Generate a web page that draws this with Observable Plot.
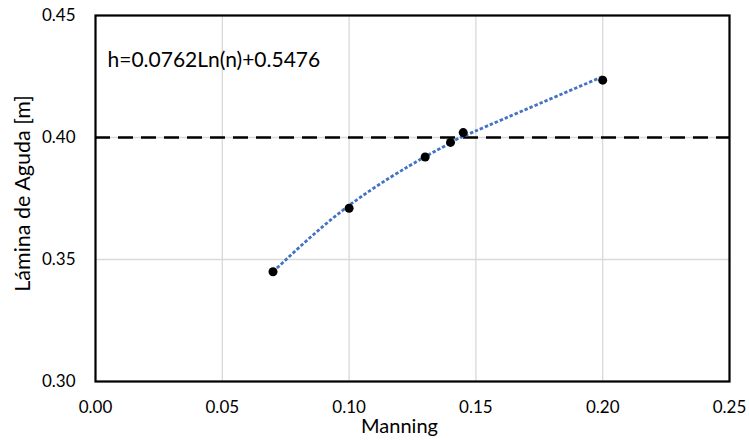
<!DOCTYPE html>
<html>
<head>
<meta charset="utf-8">
<script src="https://cdn.jsdelivr.net/npm/d3@7"></script>
<script src="https://cdn.jsdelivr.net/npm/@observablehq/plot@0.6"></script>
<style>
  html, body { margin: 0; padding: 0; background: #fff; }
  #chart { width: 749px; height: 440px; }
</style>
</head>
<body>
<div id="chart"></div>
<script>
// Data
const manning = [0.07, 0.10, 0.13, 0.14, 0.145, 0.20];
const lamina  = [0.345, 0.371, 0.392, 0.398, 0.402, 0.4235];
const trendA = 0.0762;   // coefficient from the chart's equation
const trendB = 0.5476;
const threshold = [0.40];
const xTicks = [0.00, 0.05, 0.10, 0.15, 0.20, 0.25];
const yTicks = [0.30, 0.35, 0.40, 0.45];
const equationLabel = "h=0.0762Ln(n)+0.5476";
const xTitle = "Manning";
const yTitle = "Lámina de Aguda [m]";

const points = manning.map((n, i) => ({n, h: lamina[i]}));
const trend = manning.map(n => ({n, h: trendA * Math.log(n) + trendB}));

const font = "Lato, sans-serif";

const chart = Plot.plot({
  width: 749,
  height: 440,
  marginLeft: 95,
  marginRight: 20,
  marginTop: 15,
  marginBottom: 59,
  style: {fontFamily: font, fontSize: "17px", color: "#000", background: "#fff"},
  x: {domain: [0, 0.25], ticks: xTicks, tickFormat: d3.format(".2f")},
  y: {domain: [0.30, 0.45], ticks: yTicks, tickFormat: d3.format(".2f")},
  marks: [
    Plot.gridX(xTicks, {stroke: "#d9d9d9", strokeOpacity: 1, strokeWidth: 1.3}),
    Plot.gridY(yTicks, {stroke: "#d9d9d9", strokeOpacity: 1, strokeWidth: 1.3}),
    Plot.axisX({ticks: xTicks, tickSize: 0, tickPadding: 19, label: null, tickFormat: d3.format(".2f"), fontSize: 17}),
    Plot.axisY({ticks: yTicks, tickSize: 0, tickPadding: 20, label: null, tickFormat: d3.format(".2f"), fontSize: 17}),
    Plot.ruleY(threshold, {stroke: "#000", strokeWidth: 2.5, strokeDasharray: "15,8", strokeLinecap: "butt"}),
    Plot.line(trend, {x: "n", y: "h", curve: "natural", stroke: "#4472C4", strokeWidth: 2.8, strokeDasharray: "3.4,2", strokeLinecap: "butt"}),
    Plot.dot(points, {x: "n", y: "h", r: 4.5, fill: "#000", stroke: "none"}),
    Plot.frame({stroke: "#000", strokeWidth: 2.2}),
    Plot.text([equationLabel], {frameAnchor: "top-left", dx: 12, dy: 45, text: d => d, textAnchor: "start", lineAnchor: "middle", fontSize: 21}),
    Plot.text([xTitle], {frameAnchor: "bottom", dx: -13, dy: 45, text: d => d, textAnchor: "middle", lineAnchor: "middle", fontSize: 20}),
    Plot.text([yTitle], {frameAnchor: "left", dx: -72, dy: -5, rotate: -90, text: d => d, textAnchor: "middle", lineAnchor: "middle", fontSize: 21.5})
  ]
});
document.getElementById("chart").appendChild(chart);
</script>
</body>
</html>
